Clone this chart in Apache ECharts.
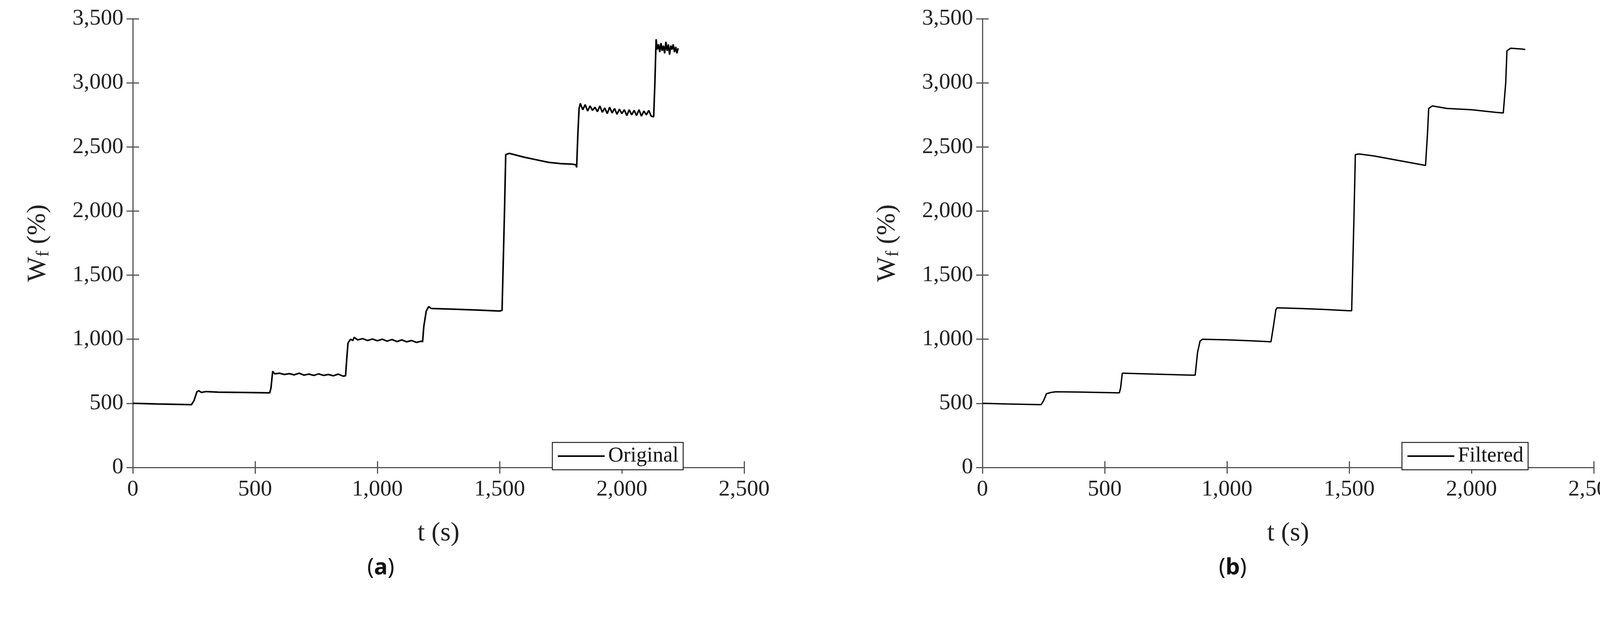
<!DOCTYPE html>
<html><head><meta charset="utf-8">
<script src="https://cdn.jsdelivr.net/npm/echarts@6/dist/echarts.min.js"></script>
<style>html,body{margin:0;padding:0;background:#fff}#c{width:4160px;height:1580px}</style>
</head><body><div id="c"></div>
<script>
const originalT = [0,100,240,250,262,270,280,300,350,450,560,565,572,580,600,620,640,660,680,700,720,740,760,780,800,820,840,860,870,875,880,890,900,905,920,940,960,980,1000,1020,1040,1060,1080,1100,1120,1140,1160,1180,1185,1190,1200,1210,1220,1300,1400,1500,1510,1520,1525,1540,1600,1650,1700,1750,1800,1812,1815,1820,1825,1830,1840,1850,1860,1870,1880,1890,1900,1910,1920,1930,1940,1950,1960,1970,1980,1990,2000,2010,2020,2030,2040,2050,2060,2070,2080,2090,2100,2110,2120,2130,2135,2140,2145,2150,2155,2160,2165,2170,2175,2180,2185,2190,2195,2200,2205,2210,2215,2220,2225,2230];
const originalW = [500,495,490,520,590,598,585,592,587,585,582,620,750,730,735,725,732,722,735,720,728,718,730,718,725,715,728,712,715,850,970,1000,990,1015,995,1005,990,1002,988,1000,985,998,982,995,980,990,975,985,980,1100,1220,1255,1240,1235,1228,1220,1225,2000,2440,2450,2420,2400,2380,2370,2365,2360,2340,2600,2800,2840,2790,2830,2780,2820,2785,2810,2775,2820,2770,2805,2760,2810,2765,2800,2755,2795,2760,2790,2745,2790,2750,2785,2745,2790,2740,2780,2750,2785,2740,2735,3000,3340,3260,3300,3240,3310,3250,3290,3230,3320,3250,3300,3220,3290,3260,3300,3240,3280,3230,3270,3250];
const filteredT = [0,100,240,250,262,280,300,400,560,565,572,580,700,860,870,880,890,900,1000,1100,1180,1190,1200,1205,1300,1400,1500,1510,1520,1525,1540,1600,1700,1800,1812,1820,1825,1840,1900,2000,2100,2130,2140,2145,2160,2200,2220];
const filteredW = [500,495,490,520,575,585,590,588,582,620,735,735,728,720,720,900,985,1000,995,988,980,1100,1230,1245,1240,1232,1222,1222,2000,2440,2445,2430,2395,2360,2355,2600,2800,2820,2800,2790,2770,2765,3000,3250,3270,3265,3260];
const xTicks=[0,500,1000,1500,2000,2500], yTicks=[0,500,1000,1500,2000,2500,3000,3500];
const legendNames=['Original','Filtered'];
const pair=(t,w)=>t.map((v,i)=>[v,w[i]]);
const FF='Liberation Serif';
const gLefts=[340,2515], gW=1565, gTop=48, gH=1149;
const grids=[],xA=[],yA=[],series=[],legends=[];
const datas=[pair(originalT,originalW),pair(filteredT,filteredW)];
for(let k=0;k<2;k++){
  grids.push({left:gLefts[k],top:gTop,width:gW,height:gH});
  const axl={show:true,lineStyle:{color:'#555',width:3}};
  const tk={show:true,inside:true,length:16,lineStyle:{color:'#555',width:3}};
  xA.push({type:'value',gridIndex:k,min:0,max:2500,interval:500,axisLine:axl,axisTick:tk,splitLine:{show:false},
    axisLabel:{fontFamily:FF,fontSize:58,color:'#222',margin:28},
    name:'t (s)',nameLocation:'middle',nameGap:135,nameTextStyle:{fontFamily:FF,fontSize:68,color:'#222'}});
  xA.push({type:'value',gridIndex:k,position:'top',min:0,max:2500,interval:500,axisLine:axl,axisTick:tk,axisLabel:{show:false},splitLine:{show:false}});
  yA.push({type:'value',gridIndex:k,min:0,max:3500,interval:500,axisLine:axl,axisTick:tk,splitLine:{show:false},
    axisLabel:{fontFamily:FF,fontSize:58,color:'#222',margin:24},
    name:'{w|W}{s|f}{w| (%)}',nameLocation:'middle',nameGap:205,
    nameTextStyle:{rich:{w:{fontFamily:FF,fontSize:68,color:'#222'},s:{fontFamily:FF,fontSize:46,color:'#222',padding:[30,0,0,0]}}}});
  yA.push({type:'value',gridIndex:k,position:'right',min:0,max:3500,interval:500,axisLine:axl,axisTick:tk,axisLabel:{show:false},splitLine:{show:false}});
  series.push({type:'line',name:legendNames[k],xAxisIndex:2*k,yAxisIndex:2*k,data:datas[k],showSymbol:false,
    lineStyle:{color:'#000',width:k===0?4:3.5},itemStyle:{color:'#000'},animation:false});
  legends.push({data:[legendNames[k]],left:gLefts[k]+1074,top:1133,orient:'horizontal',
    icon:'rect',itemWidth:120,itemHeight:4,itemGap:10,borderColor:'#222',borderWidth:2.5,padding:[8,12,8,14],
    backgroundColor:'#fff',textStyle:{fontFamily:FF,fontSize:54,color:'#111',padding:[0,0,0,4]}});
}
const chart=echarts.init(document.getElementById('c'));
chart.setOption({backgroundColor:'#fff',animation:false,grid:grids,xAxis:xA,yAxis:yA,series:series,legend:legends,
  graphic:[
    {type:'text',left:940,top:1425,style:{text:'({b|a})',fontFamily:'Noto Sans',fontSize:58,fill:'#111',rich:{b:{fontFamily:'Noto Sans',fontWeight:'bold',fontSize:58,fill:'#111'}}}},
    {type:'text',left:3120,top:1425,style:{text:'({b|b})',fontFamily:'Noto Sans',fontSize:58,fill:'#111',rich:{b:{fontFamily:'Noto Sans',fontWeight:'bold',fontSize:58,fill:'#111'}}}}
  ]});
</script></body></html>
